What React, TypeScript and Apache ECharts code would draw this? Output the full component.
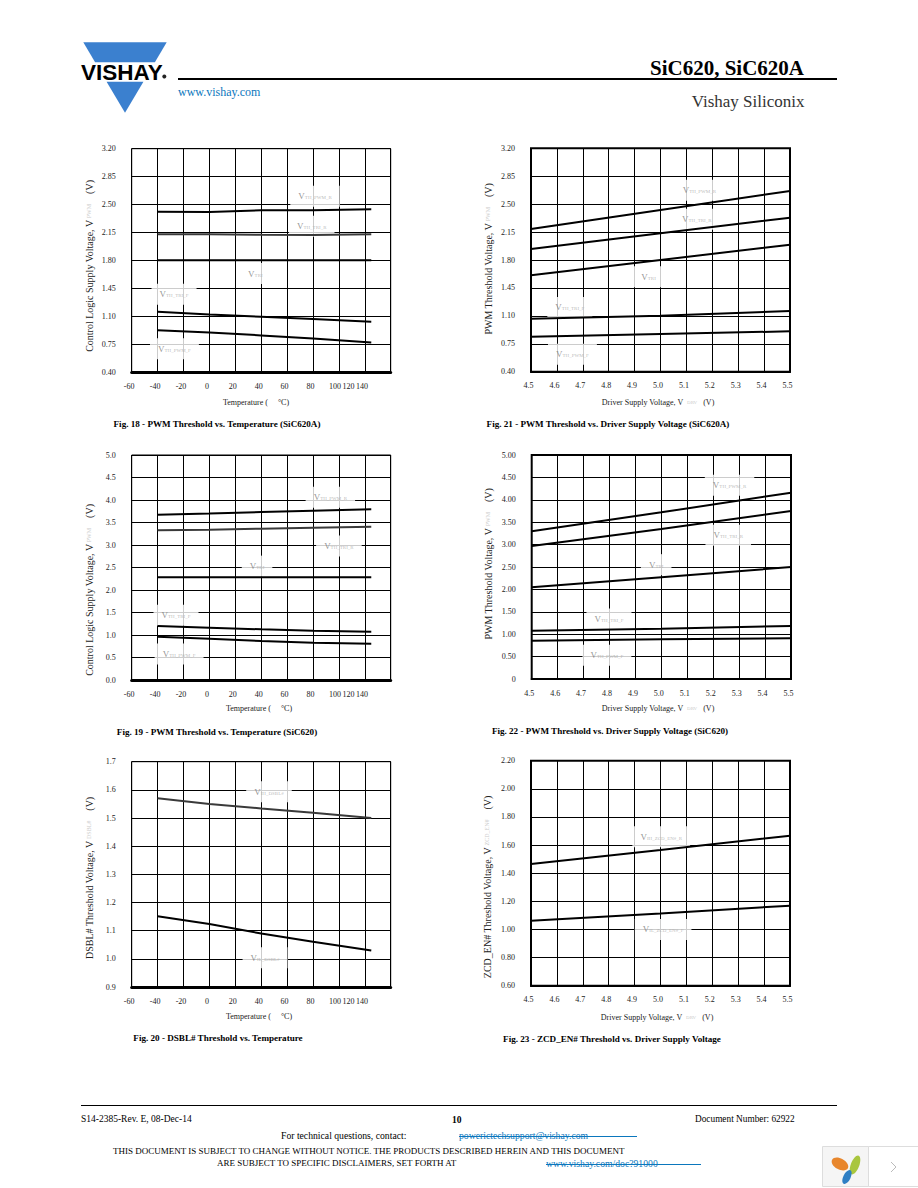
import React, { useEffect, useRef } from "react";
import * as echarts from "echarts";

const SERIF = "'Liberation Serif'";

// ---- x axes
const tempGrid = [-60, -40, -20, 0, 20, 40, 60, 80, 100, 120, 140];
const tempTickAt = [-60, -40, -20, 0, 20, 40, 60, 80, 99, 109.4, 119.7];
const tempTickText = ["-60", "-40", "-20", "0", "20", "40", "60", "80", "100", "120", "140"];
const driveGrid = [4.5, 4.6, 4.7, 4.8, 4.9, 5.0, 5.1, 5.2, 5.3, 5.4, 5.5];
const driveTickText = ["4.5", "4.6", "4.7", "4.8", "4.9", "5.0", "5.1", "5.2", "5.3", "5.4", "5.5"];
const tempPoints = [-40, 0, 40, 80, 125];
const drivePoints = [4.5, 5.0, 5.5];

// ---- y axes
const fig18Ticks = [0.4, 0.75, 1.1, 1.45, 1.8, 2.15, 2.5, 2.85, 3.2];
const fig18TickText = ["0.40", "0.75", "1.10", "1.45", "1.80", "2.15", "2.50", "2.85", "3.20"];
const fig19Ticks = [0, 0.5, 1, 1.5, 2, 2.5, 3, 3.5, 4, 4.5, 5];
const fig19TickText = ["0.0", "0.5", "1.0", "1.5", "2.0", "2.5", "3.0", "3.5", "4.0", "4.5", "5.0"];
const fig22TickText = ["0", "0.50", "1.00", "1.50", "2.00", "2.50", "3.00", "3.50", "4.00", "4.50", "5.00"];
const fig20Ticks = [0.9, 1.0, 1.1, 1.2, 1.3, 1.4, 1.5, 1.6, 1.7];
const fig20TickText = ["0.9", "1.0", "1.1", "1.2", "1.3", "1.4", "1.5", "1.6", "1.7"];
const fig23Ticks = [0.6, 0.8, 1.0, 1.2, 1.4, 1.6, 1.8, 2.0, 2.2];
const fig23TickText = ["0.60", "0.80", "1.00", "1.20", "1.40", "1.60", "1.80", "2.00", "2.20"];

// ---- series values
const fig18PwmR = [2.413, 2.41, 2.43, 2.43, 2.442];
const fig18TriR = [2.13, 2.13, 2.125, 2.122, 2.13];
const fig18Tri = [1.806, 1.806, 1.806, 1.806, 1.806];
const fig18TriF = [1.161, 1.128, 1.1, 1.07, 1.036];
const fig18PwmF = [0.932, 0.903, 0.866, 0.828, 0.779];

const fig21PwmR = [2.189, 2.427, 2.665];
const fig21TriR = [1.938, 2.134, 2.331];
const fig21Tri = [1.608, 1.8, 1.992];
const fig21TriF = [1.064, 1.102, 1.16];
const fig21PwmF = [0.839, 0.872, 0.906];

const fig19PwmR = [3.674, 3.7, 3.733, 3.763, 3.793];
const fig19TriR = [3.326, 3.34, 3.363, 3.385, 3.407];
const fig19Tri = [2.281, 2.281, 2.281, 2.281, 2.281];
const fig19TriF = [1.2, 1.163, 1.126, 1.096, 1.074];
const fig19PwmF = [0.963, 0.919, 0.867, 0.83, 0.807];

const fig22PwmR = [3.296, 3.72, 4.159];
const fig22TriR = [2.969, 3.348, 3.75];
const fig22Tri = [2.046, 2.27, 2.5];
const fig22TriF = [1.079, 1.124, 1.183];
const fig22PwmF = [0.856, 0.885, 0.908];

const fig20High = [1.57, 1.55, 1.534, 1.519, 1.5];
const fig20Low = [1.151, 1.124, 1.09, 1.061, 1.03];

const fig23High = [1.465, 1.565, 1.667];
const fig23Low = [1.062, 1.114, 1.169];

// ---- curve annotations: [subscript, x value, y value]
type Note = [string, number, number];
const fig18Notes: Note[] = [["TH_PWM_R", 81.6, 2.605], ["TH_TRI_R", 79, 2.23], ["TRI", 35.5, 1.64], ["TH_TRI_F", -27.3, 1.38], ["TH_PWM_F", -27, 0.7]];
const fig21Notes: Note[] = [["TH_PWM_R", 5.15, 2.673], ["TH_TRI_R", 5.14, 2.31], ["TRI", 4.954, 1.59], ["TH_TRI_F", 4.65, 1.206], ["TH_PWM_F", 4.66, 0.62]];
const fig19Notes: Note[] = [["TH_PWM_R", 93.4, 4.06], ["TH_TRI_R", 100, 2.98], ["TRI", 36.8, 2.53], ["TH_TRI_F", -25.8, 1.437], ["TH_PWM_F", -23.4, 0.578]];
const fig22Notes: Note[] = [["TH_PWM_R", 5.263, 4.323], ["TH_TRI_R", 5.258, 3.207], ["TRI", 4.98, 2.552], ["TH_TRI_F", 4.798, 1.339], ["TH_PWM_F", 4.79, 0.528]];
const fig20Notes: Note[] = [["IH_DSBL#", 46, 1.593], ["IL_DSBL#", 43, 1.004]];
const fig23Notes: Note[] = [["IH_ZCD_EN#_R", 5.003, 1.66], ["IL_ZCD_EN#_F", 5.01, 1.0]];

type Chart = {
  box: number[]; // left, top, width, height
  frame: number; base: number;
  temp: boolean;
  y: number[]; yText: string[];
  lines: { v: number[]; c: string }[];
  notes: Note[];
  yTitle: string; ySub: string; yPos: number[];
  xPos: number[];
  caption: string; capPos: number[];
};

const DARK = "#000";
const GREY = "#3a3a3a";

const charts: Chart[] = [
  {
    box: [131.7, 148.7, 259, 224], frame: 1, base: 3, temp: true, y: fig18Ticks, yText: fig18TickText,
    lines: [{ v: fig18PwmR, c: DARK }, { v: fig18TriR, c: GREY }, { v: fig18Tri, c: DARK }, { v: fig18TriF, c: DARK }, { v: fig18PwmF, c: DARK }],
    notes: fig18Notes, yTitle: "Control Logic Supply Voltage, V", ySub: "PWM", yPos: [89, 266], xPos: [256, 402],
    caption: "Fig. 18 - PWM Threshold vs. Temperature (SiC620A)", capPos: [217, 424],
  },
  {
    box: [531, 148.3, 259, 223.4], frame: 2, base: 2, temp: false, y: fig18Ticks, yText: fig18TickText,
    lines: [{ v: fig21PwmR, c: DARK }, { v: fig21TriR, c: DARK }, { v: fig21Tri, c: DARK }, { v: fig21TriF, c: DARK }, { v: fig21PwmF, c: DARK }],
    notes: fig21Notes, yTitle: "PWM Threshold Voltage, V", ySub: "PWM", yPos: [488, 259], xPos: [658, 402],
    caption: "Fig. 21 - PWM Threshold vs. Driver Supply Voltage (SiC620A)", capPos: [608, 424],
  },
  {
    box: [131.7, 455, 259, 225], frame: 1, base: 3, temp: true, y: fig19Ticks, yText: fig19TickText,
    lines: [{ v: fig19PwmR, c: DARK }, { v: fig19TriR, c: GREY }, { v: fig19Tri, c: DARK }, { v: fig19TriF, c: DARK }, { v: fig19PwmF, c: DARK }],
    notes: fig19Notes, yTitle: "Control Logic Supply Voltage, V", ySub: "PWM", yPos: [89, 590], xPos: [259, 708],
    caption: "Fig. 19 - PWM Threshold vs. Temperature (SiC620)", capPos: [217, 732],
  },
  {
    box: [531.7, 455, 259.3, 224], frame: 2, base: 2, temp: false, y: fig19Ticks, yText: fig22TickText,
    lines: [{ v: fig22PwmR, c: DARK }, { v: fig22TriR, c: DARK }, { v: fig22Tri, c: DARK }, { v: fig22TriF, c: DARK }, { v: fig22PwmF, c: DARK }],
    notes: fig22Notes, yTitle: "PWM Threshold Voltage, V", ySub: "PWM", yPos: [488, 564], xPos: [658, 708],
    caption: "Fig. 22 - PWM Threshold vs. Driver Supply Voltage (SiC620)", capPos: [610, 731],
  },
  {
    box: [131.7, 761.7, 259, 225.3], frame: 1, base: 3, temp: true, y: fig20Ticks, yText: fig20TickText,
    lines: [{ v: fig20High, c: GREY }, { v: fig20Low, c: DARK }],
    notes: fig20Notes, yTitle: "DSBL# Threshold Voltage, V", ySub: "DSBL#", yPos: [89, 878], xPos: [259, 1016],
    caption: "Fig. 20 - DSBL# Threshold vs. Temperature", capPos: [218, 1038],
  },
  {
    box: [531, 760.7, 259, 225], frame: 2, base: 2, temp: false, y: fig23Ticks, yText: fig23TickText,
    lines: [{ v: fig23High, c: DARK }, { v: fig23Low, c: DARK }],
    notes: fig23Notes, yTitle: "ZCD_EN# Threshold Voltage, V", ySub: "ZCD_EN#", yPos: [487, 887], xPos: [657, 1017],
    caption: "Fig. 23 - ZCD_EN# Threshold vs. Driver Supply Voltage", capPos: [612, 1039],
  },
];

function lookup(at: number[], text: string[]) {
  return (v: number) => {
    const i = at.findIndex((a) => Math.abs(a - v) < 1e-6);
    return i >= 0 ? text[i] : "";
  };
}

function txt(x: number, y: number, text: string, size: number, extra: any = {}) {
  const { fill = "#000", weight = "normal", align = "left", family = SERIF } = extra;
  return {
    type: "text", x, y, z: 20,
    style: { text, fontFamily: family, fontSize: size, fontWeight: weight, fill, align, verticalAlign: "middle" },
  };
}

function buildOption() {
  const grid: any[] = [], xAxis: any[] = [], yAxis: any[] = [], series: any[] = [], graphic: any[] = [];

  charts.forEach((c, i) => {
    const [left, top, width, height] = c.box;
    grid.push({ left, top, width, height, show: true, borderColor: "#000", borderWidth: c.frame, backgroundColor: "#fff", containLabel: false });
    const at = c.temp ? tempTickAt : driveGrid;
    const text = c.temp ? tempTickText : driveTickText;
    xAxis.push({
      type: "value", gridIndex: i,
      min: c.temp ? -60 : 4.5, max: c.temp ? 140 : 5.5, interval: c.temp ? 20 : 0.1,
      axisLine: { show: true, onZero: false, lineStyle: { color: "#000", width: c.base } },
      axisTick: { show: false, customValues: c.temp ? tempGrid : driveGrid },
      splitLine: { show: true, lineStyle: { color: "#000", width: 1 } },
      axisLabel: {
        customValues: at, formatter: lookup(at, text), margin: 10, padding: [0, 5, 0, 0],
        fontFamily: SERIF, fontSize: 8, color: "#222", hideOverlap: false,
      },
    });
    yAxis.push({
      type: "value", gridIndex: i, min: c.y[0], max: c.y[c.y.length - 1],
      axisLine: { show: false },
      axisTick: { show: false, customValues: c.y },
      splitLine: { show: true, lineStyle: { color: "#000", width: 1 } },
      axisLabel: {
        customValues: c.y, formatter: lookup(c.y, c.yText), margin: 16, padding: [5, 0, 0, 0],
        fontFamily: SERIF, fontSize: 8, color: "#222", hideOverlap: false,
      },
    });
    const xs = c.temp ? tempPoints : drivePoints;
    series.push({
      type: "scatter", xAxisIndex: i, yAxisIndex: i, z: 3, symbolSize: 0, silent: true,
      data: c.notes.map((n) => ({ value: [n[1], n[2]], name: n[0] })),
      label: {
        show: true, position: "inside", backgroundColor: "#ffffff", padding: [6, 8],
        formatter: (p: any) => `{v|V}{s|${p.name}}`,
        rich: {
          v: { fontFamily: SERIF, fontSize: 9, color: "#777" },
          s: { fontFamily: SERIF, fontSize: 5, color: "#aaa", padding: [3, 0, 0, 0] },
        },
      },
    });
    c.lines.forEach((l) => {
      series.push({
        type: "line", xAxisIndex: i, yAxisIndex: i, z: 5, showSymbol: false, symbol: "none", silent: true,
        lineStyle: { color: l.c, width: 2 },
        data: l.v.map((v, k) => [xs[k], v]),
      });
    });

    const titleRich = {
      a: { fontFamily: SERIF, fontSize: 10, fill: "#222" },
      b: { fontFamily: SERIF, fontSize: 6, fill: "#ccc" },
    };
    graphic.push({
      type: "text", x: c.yPos[0], y: c.yPos[1], rotation: Math.PI / 2, z: 20,
      style: { text: `{a|${c.yTitle}}{b| ${c.ySub}}{a|    (V)}`, rich: titleRich, align: "center", verticalAlign: "middle" },
    });
    graphic.push({
      type: "text", x: c.xPos[0], y: c.xPos[1], z: 20,
      style: {
        text: c.temp ? "{x|Temperature (     °C)}" : "{x|Driver Supply Voltage, V}{y|   DRV}{x|   (V)}",
        rich: {
          x: { fontFamily: SERIF, fontSize: 8, fill: "#222" },
          y: { fontFamily: SERIF, fontSize: 5, fill: "#ccc" },
        },
        align: "center", verticalAlign: "middle",
      },
    });
    graphic.push(txt(c.capPos[0], c.capPos[1], c.caption, 9.1, { weight: "bold", align: "center" }));
  });

  // page header
  graphic.push(
    { type: "polygon", z: 10, shape: { points: [[83.3, 42.3], [166.7, 42.3], [154.9, 62.3], [95.1, 62.3]] }, style: { fill: "#3b80cf" } },
    { type: "polygon", z: 10, shape: { points: [[106.6, 81.7], [143.4, 81.7], [125, 112.7]] }, style: { fill: "#3b80cf" } },
    txt(81, 72, "VISHAY", 22.5, { weight: "bold", family: "'Liberation Sans'" }),
    { type: "circle", z: 10, shape: { cx: 164.3, cy: 76.5, r: 2 }, style: { fill: "#222" } },
    { type: "line", z: 10, shape: { x1: 178, y1: 79, x2: 837, y2: 79 }, style: { stroke: "#000", lineWidth: 2 } },
    txt(178, 92, "www.vishay.com", 12, { fill: "#0b77bd" }),
    txt(804, 68, "SiC620, SiC620A", 21, { weight: "bold", align: "right" }),
    txt(804.5, 101, "Vishay Siliconix", 17, { align: "right", fill: "#333" }),
  );

  // page footer
  graphic.push(
    { type: "line", z: 10, shape: { x1: 81, y1: 1105.5, x2: 837, y2: 1105.5 }, style: { stroke: "#000", lineWidth: 1 } },
    txt(81, 1119, "S14-2385-Rev. E, 08-Dec-14", 9.5),
    txt(452, 1119.5, "10", 9.5, { weight: "bold" }),
    txt(695, 1118.5, "Document Number: 62922", 9.3),
    txt(281, 1135, "For technical questions, contact:", 9.7),
    txt(459, 1135, "powerictechsupport@vishay.com", 9.7, { fill: "#0b77bd" }),
    { type: "line", z: 10, shape: { x1: 459, y1: 1136.5, x2: 637, y2: 1136.5 }, style: { stroke: "#0b77bd", lineWidth: 1 } },
    txt(113, 1151, "THIS DOCUMENT IS SUBJECT TO CHANGE WITHOUT NOTICE. THE PRODUCTS DESCRIBED HEREIN AND THIS DOCUMENT", 9),
    txt(217, 1163, "ARE SUBJECT TO SPECIFIC DISCLAIMERS, SET FORTH AT", 9),
    txt(546, 1163, "www.vishay.com/doc?91000", 9.7, { fill: "#0b77bd" }),
    { type: "line", z: 10, shape: { x1: 546, y1: 1164.5, x2: 701, y2: 1164.5 }, style: { stroke: "#0b77bd", lineWidth: 1 } },
  );

  // viewer widget in the corner
  graphic.push(
    { type: "rect", z: 10, shape: { x: 822.5, y: 1146.5, width: 46, height: 40 }, style: { fill: "#f5f5f5", stroke: "#ddd", lineWidth: 1 } },
    { type: "rect", z: 10, shape: { x: 868.5, y: 1146.5, width: 50, height: 40 }, style: { fill: "#fff", stroke: "#ddd", lineWidth: 1 } },
    { type: "ellipse", z: 11, x: 840, y: 1164, rotation: -0.5, shape: { cx: 0, cy: 0, rx: 9, ry: 5.5 }, style: { fill: "#e8862c" } },
    { type: "ellipse", z: 11, x: 855, y: 1165, rotation: 1.2, shape: { cx: 0, cy: 0, rx: 10, ry: 4.2 }, style: { fill: "#a9c63e" } },
    { type: "ellipse", z: 11, x: 847, y: 1177, rotation: 1.1, shape: { cx: 0, cy: 0, rx: 7.5, ry: 3.6 }, style: { fill: "#2f7fc4" } },
    { type: "polyline", z: 11, shape: { points: [[891, 1162], [896, 1167], [891, 1172]] }, style: { stroke: "#bbb", lineWidth: 1, fill: "none" } },
  );

  return { animation: false, backgroundColor: "#fff", grid, xAxis, yAxis, series, graphic: { elements: graphic } };
}

export default function App() {
  const ref = useRef<HTMLDivElement>(null);
  useEffect(() => {
    document.body.style.margin = "0";
    const chart = echarts.init(ref.current!, undefined, { renderer: "svg" });
    chart.setOption(buildOption() as any);
    return () => chart.dispose();
  }, []);
  return <div ref={ref} style={{ width: 918, height: 1188 }} />;
}
